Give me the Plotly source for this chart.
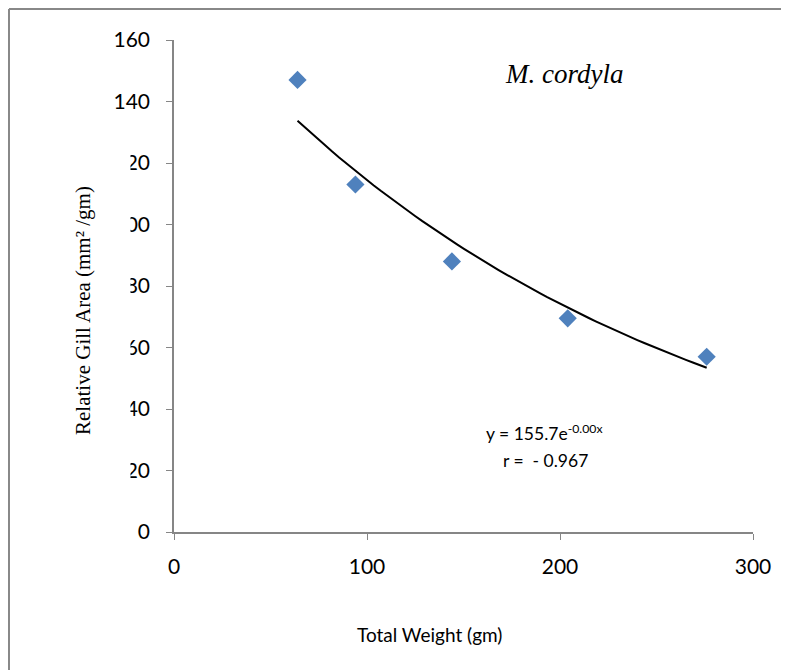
import numpy as np
import plotly.graph_objects as go

weight = [64, 94, 144, 204, 276]
gill_area = [147, 113, 88, 69.5, 57]
y_ticks = [0, 20, 40, 60, 80, 100, 120, 140, 160]
x_ticks = [0, 100, 200, 300]

# exponential trend line fitted to the data
b, ln_a = np.polyfit(np.array(weight, float), np.log(np.array(gill_area, float)), 1)
fit_x = np.linspace(min(weight), max(weight), 60)
fit_y = np.exp(ln_a) * np.exp(b * fit_x)

SANS = "Lato, Open Sans, sans-serif"
SERIF = "Liberation Serif, Times New Roman, serif"

fig = go.Figure()
fig.add_trace(go.Scatter(x=fit_x, y=fit_y, mode="lines",
                         line=dict(color="black", width=2), hoverinfo="skip"))
fig.add_trace(go.Scatter(x=weight, y=gill_area, mode="markers",
                         marker=dict(symbol="diamond", size=14, color="#4F81BD")))

axis_common = dict(showgrid=False, zeroline=False, showline=True, linecolor="#868686",
                   linewidth=1.5, ticks="outside", ticklen=6, tickcolor="#868686",
                   tickfont=dict(family=SANS, size=21, color="black"))

fig.update_xaxes(range=[0, 300], tickvals=x_ticks, ticklabelstandoff=9, **axis_common)
fig.update_yaxes(range=[0, 160], tickvals=y_ticks, ticklabelstandoff=12, **axis_common)

fig.update_layout(
    width=781, height=662,
    margin=dict(l=166, r=36, t=32, b=138),
    paper_bgcolor="white", plot_bgcolor="white",
    showlegend=False,
    shapes=[
        dict(type="line", xref="paper", yref="paper", x0=-0.285, x1=1.1, y0=1.063, y1=1.063,
             line=dict(color="#888888", width=2)),
        dict(type="line", xref="paper", yref="paper", x0=-0.285, x1=-0.285, y0=1.063, y1=-0.3,
             line=dict(color="#888888", width=2)),
    ],
    annotations=[
        # white block behind the y title, hiding part of the tick labels
        dict(text=" ", xref="paper", yref="paper", x=-0.1537, y=0.436,
             xanchor="center", yanchor="middle", width=90, height=335,
             bgcolor="white", borderpad=0, showarrow=False),
        dict(text="Relative Gill Area (mm² /gm)", xref="paper", yref="paper",
             x=-0.1572, y=0.4512, textangle=-90, showarrow=False,
             xanchor="center", yanchor="middle",
             font=dict(family=SERIF, size=21, color="black")),
        dict(text="Total Weight (gm)", xref="paper", yref="paper",
             x=0.442, y=-0.2093, showarrow=False, xanchor="center", yanchor="middle",
             font=dict(family=SANS, size=19, color="black")),
        dict(text="<i>M. cordyla</i>", x=202, y=149, showarrow=False,
             font=dict(family=SERIF, size=27, color="black")),
        dict(text="y = 155.7e<sup>-0.00x</sup>", x=192.2, y=32.2, showarrow=False,
             font=dict(family=SANS, size=17.5, color="black")),
        dict(text="r =  - 0.967", x=192.7, y=23.4, showarrow=False,
             font=dict(family=SANS, size=17.5, color="black")),
    ],
)

fig.write_html("out.html")
